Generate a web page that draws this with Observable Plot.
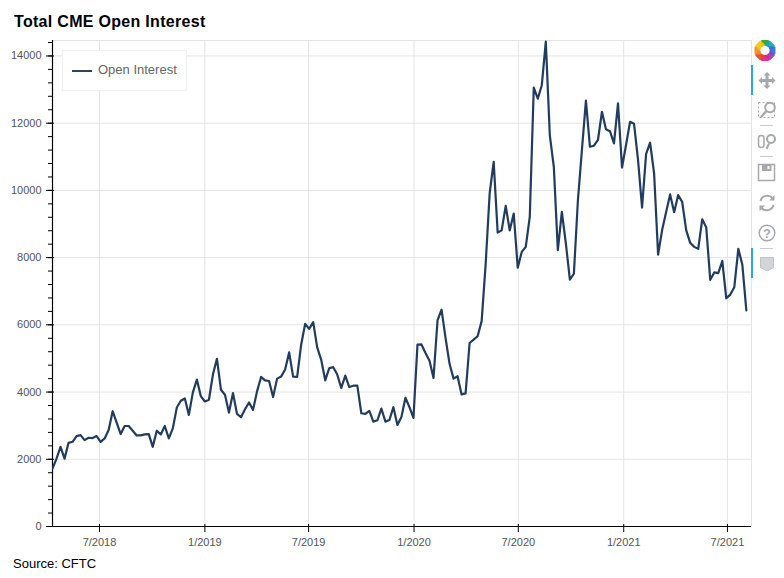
<!DOCTYPE html>
<html>
<head>
<meta charset="utf-8">
<script src="https://cdn.jsdelivr.net/npm/d3@7"></script>
<script src="https://cdn.jsdelivr.net/npm/@observablehq/plot@0.6"></script>
<style>
  html, body { margin: 0; padding: 0; background: #fff; }
  body { font-family: "Liberation Sans", Arial, sans-serif; width: 784px; height: 578px; overflow: hidden; }
  #wrap { position: relative; width: 784px; height: 578px; }
  #title { height: 40px; box-sizing: border-box; padding: 13px 0 0 14px; font-size: 16px; line-height: 18px; font-weight: bold; color: #000; letter-spacing: .3px; }
  #chart svg { display: block; }
  #source { padding: 6px 0 0 13px; font-size: 13px; line-height: 16px; color: #000; }
  #legend { position: absolute; left: 62px; top: 50px; width: 123px; height: 39px; background: #fff; border: 1px solid #f0f0f0; }
  #legend i { position: absolute; left: 9px; top: 19px; width: 20px; height: 2px; background: #2a4468; }
  #legend span { position: absolute; left: 35px; top: 11px; font-size: 13px; line-height: 16px; color: #666; white-space: nowrap; }
  #tools { position: absolute; left: 751px; top: 40px; }
</style>
</head>
<body>
<div id="wrap">
  <div id="title">Total CME Open Interest</div>
  <div id="chart"></div>
  <div id="source">Source: CFTC</div>
  <div id="legend"><i></i><span>Open Interest</span></div>
  <svg id="tools" width="33" height="240" viewBox="0 0 33 240"></svg>
</div>
<script>
const startDate = "2018-04-10";
const endDate = "2021-08-12";
const openInterest = [
  1720, 2020, 2370, 2020, 2490, 2520, 2690, 2720, 2570, 2640,
  2630, 2690, 2520, 2620, 2870, 3430, 3090, 2750, 2990, 2990,
  2850, 2710, 2710, 2740, 2750, 2370, 2850, 2740, 2990, 2620,
  2920, 3540, 3740, 3810, 3320, 3990, 4370, 3870, 3720, 3770,
  4520, 4990, 4070, 3920, 3390, 3970, 3350, 3250, 3490, 3690,
  3470, 4020, 4450, 4350, 4330, 3850, 4400, 4460, 4670, 5180,
  4460, 4450, 5410, 6030, 5880, 6080, 5330, 4960, 4350, 4710,
  4740, 4520, 4120, 4490, 4150, 4190, 4190, 3370, 3350, 3440,
  3120, 3160, 3510, 3120, 3170, 3550, 3020, 3260, 3830, 3550,
  3230, 5410, 5420, 5160, 4930, 4420, 6130, 6450, 5610, 4840,
  4400, 4470, 3930, 3960, 5460, 5560, 5660, 6110, 7800, 9910,
  10850, 8745, 8810, 9540, 8810, 9310, 7700, 8170, 8320, 9210,
  13060, 12730, 13130, 14425, 11640, 10700, 8220, 9360, 8420, 7345,
  7520, 9700, 11200, 12670, 11300, 11330, 11500, 12340, 11820, 11760,
  11400, 12590, 10680, 11350, 12040, 11980, 10900, 9490, 11080, 11420,
  10510, 8090, 8820, 9360, 9880, 9350, 9860, 9660, 8820, 8440,
  8320, 8260, 9140, 8900, 7340, 7560, 7540, 7900, 6790, 6900,
  7120, 8260, 7790, 6430
];
const yMajor = [0, 2000, 4000, 6000, 8000, 10000, 12000, 14000];
const yMinor = d3.range(0, 14401, 400);
const xTickDates = ["2018-07-01", "2019-01-01", "2019-07-01", "2020-01-01", "2020-07-01", "2021-01-01", "2021-07-01"].map(d => new Date(d + "T00:00Z"));
const gridColor = "#e4e4e4";
const lineColor = "#223c60";
const labelColor = "#555";

const first = new Date(startDate + "T00:00Z");
const rows = openInterest.map((v, i) => ({ date: d3.utcWeek.offset(first, i), value: v }));

const chart = Plot.plot({
  width: 784,
  height: 510,
  marginTop: 0,
  marginLeft: 52,
  marginRight: 33,
  marginBottom: 24,
  style: { fontFamily: "'Liberation Sans', Arial, sans-serif", fontSize: "11px", background: "#fff" },
  x: { type: "utc", domain: [first, new Date(endDate + "T00:00Z")] },
  y: { domain: [0, 14460] },
  marks: [
    Plot.frame({ stroke: gridColor }),
    Plot.ruleX(xTickDates, { stroke: gridColor }),
    Plot.ruleY(yMajor.slice(1), { stroke: gridColor }),
    Plot.axisY({ ticks: yMinor, tickSize: 4, tickFormat: () => "", stroke: "#000", fill: "none", label: null }),
    Plot.axisY({ ticks: yMajor, tickSize: 6, tickPadding: 5, tickFormat: d => String(d), stroke: "#000", fill: labelColor, label: null }),
    Plot.axisY({ ticks: yMajor, tickSize: -2, tickFormat: () => "", stroke: "#000", fill: "none", label: null }),
    Plot.axisX({ ticks: xTickDates, tickSize: 6, tickPadding: 6, tickFormat: d3.utcFormat("%-m/%Y"), stroke: "#000", fill: labelColor, label: null }),
    Plot.axisX({ ticks: xTickDates, tickSize: -2, tickFormat: () => "", stroke: "#000", fill: "none", label: null }),
    Plot.ruleX([first], { stroke: "#000", strokeWidth: 1.2 }),
    Plot.ruleY([0], { stroke: "#000", strokeWidth: 1.2 }),
    Plot.line(rows, { x: "date", y: "value", stroke: lineColor, strokeWidth: 2.2, clip: true })
  ]
});
document.getElementById("chart").append(chart);

// Bokeh-style toolbar beside the plot
const ink = "#a6a9ad";
const logoColors = ["#2ca02c", "#17a2b8", "#2e6fd6", "#8e3fb5", "#e0218a", "#e8402a", "#f58a1f", "#f5c518"];
const logo = logoColors.map((c, i) =>
  `<rect x="-4" y="-10.5" width="8" height="7.5" rx="1" fill="${c}" opacity=".92" transform="rotate(${i * 45})"/>`).join("");
document.getElementById("tools").innerHTML = `
  <g transform="translate(14,10.5)">${logo}<circle r="4.6" fill="#fff"/></g>
  <rect x="-1" y="25" width="3" height="30" fill="#26aae1"/>
  <rect x="-1" y="208" width="3" height="30" fill="#26aae1"/>
  <g transform="translate(16,40.5)" fill="${ink}">
    <path d="M-6 -1.5H-1.5V-6H1.5V-1.5H6V1.5H1.5V6H-1.5V1.5H-6Z"/>
    <path d="M-8.5 0L-5 -3.5V3.5ZM8.5 0L5 -3.5V3.5ZM0 -8.5L-3.5 -5H3.5ZM0 8.5L-3.5 5H3.5Z"/>
  </g>
  <g fill="none" stroke="${ink}">
    <rect x="7.5" y="62.5" width="16" height="15" stroke-dasharray="2 2"/>
    <circle cx="19" cy="67.5" r="4.8" stroke-width="2" fill="#fff"/>
    <path d="M15.5 71L10 77" stroke-width="2.5"/>
    <path d="M9 85.5h13M9 116.5h13M9 208.5h13" stroke="#ccc"/>
    <rect x="7.5" y="95.5" width="5.5" height="12" rx="2.7" stroke-width="1.5"/>
    <circle cx="20" cy="99" r="4" stroke-width="2"/>
    <path d="M18 103.5L15.5 109" stroke-width="2"/>
    <rect x="7.5" y="124.5" width="16" height="16" stroke-width="1.5"/>
    <rect x="11" y="125" width="9.5" height="6" fill="${ink}" stroke="none"/>
    <rect x="16.5" y="126" width="2" height="3" fill="#fff" stroke="none"/>
    <path d="M9.5 161a7 7 0 0 1 12 -3M22.5 165a7 7 0 0 1 -12 3" stroke-width="2"/>
    <path d="M23.5 155v5.5h-5.5M8.5 171v-5.5h5.5" fill="${ink}" stroke="none"/>
    <circle cx="16" cy="193" r="7.8" stroke-width="1.5"/>
    <path d="M9.5 217.5h13v10l-6.5 3.5l-6.5 -3.5Z" fill="#d4d5d7" stroke="#c2c3c5"/>
  </g>
  <text x="16" y="197.8" text-anchor="middle" font-family="Liberation Sans" font-size="13" font-weight="bold" fill="${ink}">?</text>`;
</script>
</body>
</html>
